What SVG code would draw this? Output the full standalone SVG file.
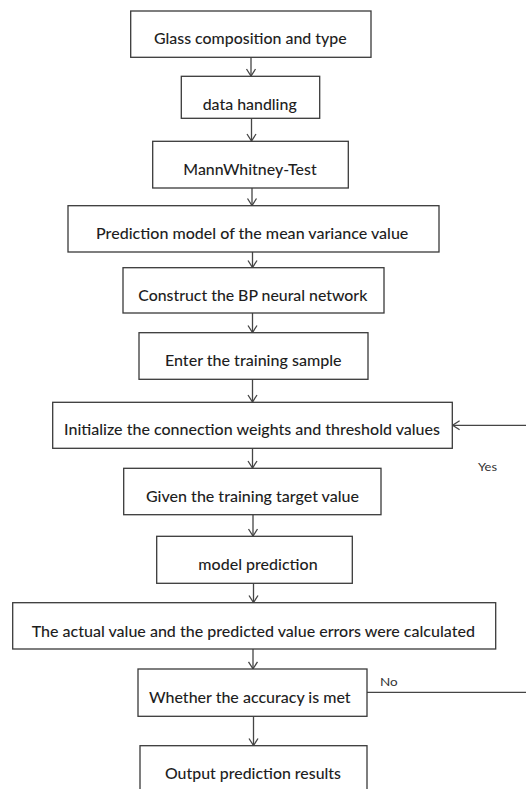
<svg xmlns="http://www.w3.org/2000/svg" width="526" height="789" viewBox="0 0 526 789">
<defs>
<style>
.box{fill:#fff;stroke:#3a3a3a;stroke-width:1.3}
.t{font-family:Lato,"Open Sans","Liberation Sans",sans-serif;font-size:15.8px;fill:#1e1e1e;text-anchor:middle;font-weight:500}
.s{font-family:Lato,"Open Sans","Liberation Sans",sans-serif;font-size:12px;fill:#333}
.c{stroke:#454545;stroke-width:1.3;fill:none}
</style>
<marker id="ah" markerUnits="userSpaceOnUse" markerWidth="14" markerHeight="14" viewBox="-7 -10 14 14" refX="0" refY="0" orient="auto-start-reverse" overflow="visible">
<path d="M-7,-4.5 L0,0 L-7,4.5" fill="none" stroke="#454545" stroke-width="1.3"/>
</marker>
</defs>
<rect width="526" height="789" fill="#fff"/>
<g id="connectors">
<line class="c" x1="251" y1="57.3" x2="251" y2="76" marker-end="url(#ah)"/>
<line class="c" x1="251.5" y1="118.3" x2="251.5" y2="141" marker-end="url(#ah)"/>
<line class="c" x1="252" y1="188" x2="252" y2="205.5" marker-end="url(#ah)"/>
<line class="c" x1="252.5" y1="252" x2="252.5" y2="267.5" marker-end="url(#ah)"/>
<line class="c" x1="252.5" y1="313" x2="252.5" y2="332.5" marker-end="url(#ah)"/>
<line class="c" x1="252.5" y1="379.3" x2="252.5" y2="402" marker-end="url(#ah)"/>
<line class="c" x1="252.5" y1="448.3" x2="252.5" y2="468" marker-end="url(#ah)"/>
<line class="c" x1="253" y1="514.7" x2="253" y2="536" marker-end="url(#ah)"/>
<line class="c" x1="253.5" y1="583.3" x2="253.5" y2="602.5" marker-end="url(#ah)"/>
<line class="c" x1="253" y1="649" x2="253" y2="668.8" marker-end="url(#ah)"/>
<line class="c" x1="253.5" y1="716.3" x2="253.5" y2="745.5" marker-end="url(#ah)"/>
<line class="c" x1="367" y1="692.3" x2="527" y2="692.3"/>
<line class="c" x1="527" y1="425.3" x2="452.6" y2="425.3" marker-end="url(#ah)"/>
<text class="s" x="380" y="686" textLength="17.7" lengthAdjust="spacingAndGlyphs">No</text>
<text class="s" x="478" y="470.7" textLength="19" lengthAdjust="spacingAndGlyphs">Yes</text>
</g>
<g id="n1"><rect class="box" x="130.7" y="11" width="240.3" height="46.3"/><text class="t" x="250.3" y="44.3" textLength="192.7" lengthAdjust="spacingAndGlyphs">Glass composition and type</text></g>
<g id="n2"><rect class="box" x="181.3" y="76.3" width="138.4" height="42"/><text class="t" x="249.7" y="110" textLength="94" lengthAdjust="spacingAndGlyphs">data handling</text></g>
<g id="n3"><rect class="box" x="152.7" y="141.3" width="195.6" height="46.7"/><text class="t" x="250" y="175" textLength="133.3" lengthAdjust="spacingAndGlyphs">MannWhitney-Test</text></g>
<g id="n4"><rect class="box" x="68" y="205.7" width="371" height="46.3"/><text class="t" x="252.2" y="239" textLength="312.3" lengthAdjust="spacingAndGlyphs">Prediction model of the mean variance value</text></g>
<g id="n5"><rect class="box" x="123" y="267.7" width="261" height="45.3"/><text class="t" x="252.8" y="301" textLength="229" lengthAdjust="spacingAndGlyphs">Construct the BP neural network</text></g>
<g id="n6"><rect class="box" x="139" y="332.7" width="229" height="46.6"/><text class="t" x="253.3" y="366" textLength="176.7" lengthAdjust="spacingAndGlyphs">Enter the training sample</text></g>
<g id="n7"><rect class="box" x="52.7" y="402.3" width="399.6" height="46"/><text class="t" x="252" y="435" textLength="376" lengthAdjust="spacingAndGlyphs">Initialize the connection weights and threshold values</text></g>
<g id="n8"><rect class="box" x="123.7" y="468.3" width="257.3" height="46.4"/><text class="t" x="252.5" y="502.3" textLength="213" lengthAdjust="spacingAndGlyphs">Given the training target value</text></g>
<g id="n9"><rect class="box" x="156.7" y="536.3" width="195.6" height="47"/><text class="t" x="258" y="570" textLength="119.3" lengthAdjust="spacingAndGlyphs">model prediction</text></g>
<g id="n10"><rect class="box" x="12.7" y="602.7" width="483" height="46.3"/><text class="t" x="253.3" y="636.7" textLength="443.3" lengthAdjust="spacingAndGlyphs">The actual value and the predicted value errors were calculated</text></g>
<g id="n11"><rect class="box" x="138" y="669" width="229" height="47.3"/><text class="t" x="249.8" y="703.3" textLength="201.7" lengthAdjust="spacingAndGlyphs">Whether the accuracy is met</text></g>
<g id="n12"><rect class="box" x="140" y="745.7" width="227" height="60"/><text class="t" x="253" y="779.3" textLength="176" lengthAdjust="spacingAndGlyphs">Output prediction results</text></g>
</svg>
